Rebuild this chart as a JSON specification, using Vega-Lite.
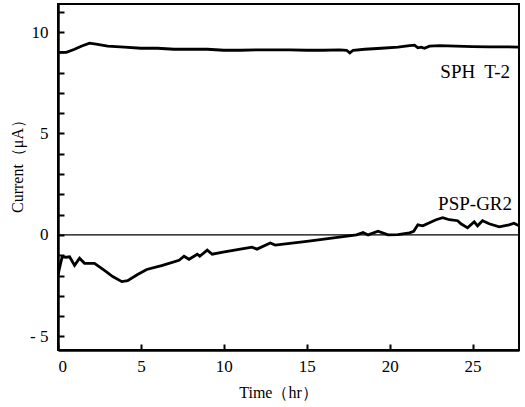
{
  "$schema": "https://vega.github.io/schema/vega-lite/v6.json",
  "width": 461,
  "height": 346,
  "autosize": "none",
  "padding": {"left": 58, "top": 4, "right": 6, "bottom": 57},
  "background": "white",
  "config": {
    "view": {"stroke": "black", "strokeWidth": 2},
    "font": "Liberation Serif",
    "axis": {"grid": false, "domainColor": "black", "domainWidth": 2.5, "tickColor": "black", "tickWidth": 2, "labelColor": "black", "titleColor": "black", "labelFont": "Liberation Serif", "titleFont": "Liberation Serif", "labelFontSize": 17, "titleFontSize": 16, "titleFontWeight": "normal", "labelOverlap": false}
  },
  "datasets": {
    "curves": [
      {"series": "SPH T-2", "t": 0, "v": 9.0},
      {"series": "SPH T-2", "t": 0.5, "v": 9.0},
      {"series": "SPH T-2", "t": 1.0, "v": 9.15},
      {"series": "SPH T-2", "t": 1.4, "v": 9.3},
      {"series": "SPH T-2", "t": 1.9, "v": 9.45},
      {"series": "SPH T-2", "t": 2.3, "v": 9.4},
      {"series": "SPH T-2", "t": 3, "v": 9.3},
      {"series": "SPH T-2", "t": 4, "v": 9.25},
      {"series": "SPH T-2", "t": 5, "v": 9.2},
      {"series": "SPH T-2", "t": 6, "v": 9.2},
      {"series": "SPH T-2", "t": 7, "v": 9.15},
      {"series": "SPH T-2", "t": 8, "v": 9.15},
      {"series": "SPH T-2", "t": 9, "v": 9.15},
      {"series": "SPH T-2", "t": 10, "v": 9.1},
      {"series": "SPH T-2", "t": 11, "v": 9.1},
      {"series": "SPH T-2", "t": 12, "v": 9.12},
      {"series": "SPH T-2", "t": 13, "v": 9.12},
      {"series": "SPH T-2", "t": 14, "v": 9.12},
      {"series": "SPH T-2", "t": 15, "v": 9.1},
      {"series": "SPH T-2", "t": 16, "v": 9.1},
      {"series": "SPH T-2", "t": 17, "v": 9.12},
      {"series": "SPH T-2", "t": 17.4, "v": 9.1},
      {"series": "SPH T-2", "t": 17.6, "v": 8.97},
      {"series": "SPH T-2", "t": 17.8, "v": 9.1},
      {"series": "SPH T-2", "t": 18.5, "v": 9.15},
      {"series": "SPH T-2", "t": 19.5, "v": 9.2},
      {"series": "SPH T-2", "t": 20.5, "v": 9.25},
      {"series": "SPH T-2", "t": 21.2, "v": 9.33},
      {"series": "SPH T-2", "t": 21.5, "v": 9.35},
      {"series": "SPH T-2", "t": 21.7, "v": 9.22},
      {"series": "SPH T-2", "t": 21.9, "v": 9.25},
      {"series": "SPH T-2", "t": 22.1, "v": 9.2},
      {"series": "SPH T-2", "t": 22.4, "v": 9.3},
      {"series": "SPH T-2", "t": 23, "v": 9.33},
      {"series": "SPH T-2", "t": 24, "v": 9.3},
      {"series": "SPH T-2", "t": 25, "v": 9.28},
      {"series": "SPH T-2", "t": 26, "v": 9.27},
      {"series": "SPH T-2", "t": 27, "v": 9.27},
      {"series": "SPH T-2", "t": 27.8, "v": 9.25},
      {"series": "PSP-GR2", "t": 0, "v": -1.97},
      {"series": "PSP-GR2", "t": 0.1, "v": -1.6},
      {"series": "PSP-GR2", "t": 0.25, "v": -1.08},
      {"series": "PSP-GR2", "t": 0.5, "v": -1.1},
      {"series": "PSP-GR2", "t": 0.7, "v": -1.08},
      {"series": "PSP-GR2", "t": 1.0, "v": -1.5},
      {"series": "PSP-GR2", "t": 1.3, "v": -1.15},
      {"series": "PSP-GR2", "t": 1.6, "v": -1.4},
      {"series": "PSP-GR2", "t": 2.2, "v": -1.4},
      {"series": "PSP-GR2", "t": 2.8, "v": -1.75},
      {"series": "PSP-GR2", "t": 3.3, "v": -2.05},
      {"series": "PSP-GR2", "t": 3.85, "v": -2.3},
      {"series": "PSP-GR2", "t": 4.2, "v": -2.25},
      {"series": "PSP-GR2", "t": 4.8, "v": -1.95},
      {"series": "PSP-GR2", "t": 5.35, "v": -1.7},
      {"series": "PSP-GR2", "t": 6.3, "v": -1.5},
      {"series": "PSP-GR2", "t": 7.3, "v": -1.25},
      {"series": "PSP-GR2", "t": 7.6, "v": -1.05},
      {"series": "PSP-GR2", "t": 7.9, "v": -1.2},
      {"series": "PSP-GR2", "t": 8.4, "v": -0.95},
      {"series": "PSP-GR2", "t": 8.55, "v": -1.05},
      {"series": "PSP-GR2", "t": 9.0, "v": -0.75},
      {"series": "PSP-GR2", "t": 9.3, "v": -0.95},
      {"series": "PSP-GR2", "t": 9.95, "v": -0.85},
      {"series": "PSP-GR2", "t": 11, "v": -0.7},
      {"series": "PSP-GR2", "t": 11.7, "v": -0.6},
      {"series": "PSP-GR2", "t": 12.0, "v": -0.7},
      {"series": "PSP-GR2", "t": 12.8, "v": -0.4},
      {"series": "PSP-GR2", "t": 13.1, "v": -0.5},
      {"series": "PSP-GR2", "t": 15, "v": -0.32},
      {"series": "PSP-GR2", "t": 18.0, "v": 0.0},
      {"series": "PSP-GR2", "t": 18.4, "v": 0.12},
      {"series": "PSP-GR2", "t": 18.7, "v": 0.0},
      {"series": "PSP-GR2", "t": 19.3, "v": 0.18},
      {"series": "PSP-GR2", "t": 19.9, "v": 0.0},
      {"series": "PSP-GR2", "t": 20.5, "v": 0.02},
      {"series": "PSP-GR2", "t": 21.2, "v": 0.1},
      {"series": "PSP-GR2", "t": 21.45, "v": 0.18},
      {"series": "PSP-GR2", "t": 21.7, "v": 0.5},
      {"series": "PSP-GR2", "t": 22.0, "v": 0.45},
      {"series": "PSP-GR2", "t": 22.4, "v": 0.6},
      {"series": "PSP-GR2", "t": 22.8, "v": 0.75},
      {"series": "PSP-GR2", "t": 23.2, "v": 0.85},
      {"series": "PSP-GR2", "t": 23.6, "v": 0.75},
      {"series": "PSP-GR2", "t": 24.1, "v": 0.7},
      {"series": "PSP-GR2", "t": 24.3, "v": 0.55},
      {"series": "PSP-GR2", "t": 24.7, "v": 0.35},
      {"series": "PSP-GR2", "t": 25.1, "v": 0.65},
      {"series": "PSP-GR2", "t": 25.3, "v": 0.45},
      {"series": "PSP-GR2", "t": 25.6, "v": 0.7},
      {"series": "PSP-GR2", "t": 26.0, "v": 0.55},
      {"series": "PSP-GR2", "t": 26.6, "v": 0.4},
      {"series": "PSP-GR2", "t": 27.2, "v": 0.5},
      {"series": "PSP-GR2", "t": 27.5, "v": 0.58},
      {"series": "PSP-GR2", "t": 27.8, "v": 0.45}
    ],
    "labels": [
      {"text": "SPH\u00a0 T-2", "t": 27.26, "v": 8.05},
      {"text": "PSP-GR2", "t": 27.38, "v": 1.5}
    ],
    "zero": [{"v": 0}]
  },
  "layer": [
    {
      "data": {"name": "curves"},
      "mark": {"type": "line", "color": "black", "strokeWidth": 2.8, "clip": true},
      "encoding": {
        "x": {"field": "t", "type": "quantitative", "scale": {"domain": [0, 27.8], "nice": false, "zero": false},
          "axis": {"title": "Time（hr）", "values": [0, 5, 10, 15, 20, 25], "tickCount": 30, "tickSize": -6, "labelPadding": 14, "titlePadding": 10, "titleX": 220, "titleFontSize": 16, "labelOverlap": false}},
        "y": {"field": "v", "type": "quantitative", "scale": {"domain": [-5.67, 11.38], "nice": false, "zero": false},
          "axis": {"title": "Current（μA）", "values": [-5, -4, -3, -2, -1, 0, 1, 2, 3, 4, 5, 6, 7, 8, 9, 10, 11], "tickCount": 40, "tickSize": -6, "labelPadding": 16, "titlePadding": 4, "titleY": 158, "labelOverlap": false,
            "labelExpr": "datum.value == -5 ? '- 5' : datum.value == 0 ? '0' : datum.value == 5 ? '5' : datum.value == 10 ? '10' : ''"}},
        "detail": {"field": "series"}
      }
    },
    {
      "data": {"name": "zero"},
      "mark": {"type": "rule", "color": "black", "strokeWidth": 1.3},
      "encoding": {"y": {"field": "v", "type": "quantitative"}}
    },
    {
      "data": {"name": "labels"},
      "mark": {"type": "text", "align": "right", "baseline": "middle", "font": "Liberation Serif", "fontSize": 19, "color": "black"},
      "encoding": {
        "x": {"field": "t", "type": "quantitative"},
        "y": {"field": "v", "type": "quantitative"},
        "text": {"field": "text"}
      }
    }
  ]
}
